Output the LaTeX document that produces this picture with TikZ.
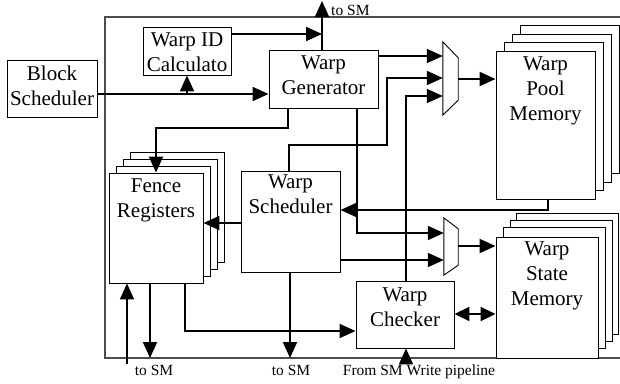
\documentclass[tikz,border=0pt]{standalone}
\usepackage{fontspec}
\setmainfont{Liberation Serif}
\usetikzlibrary{arrows.meta,calc}
\begin{document}
\begin{tikzpicture}[x=1pt,y=-1pt,
  box/.style={draw, line width=0.9pt, fill=white, inner sep=0pt, rectangle},
  lbl/.style={font=\fontsize{21}{25}\selectfont, align=center, inner sep=0pt, anchor=north},
  small/.style={font=\fontsize{15.5}{18}\selectfont, inner sep=0pt, anchor=base},
  conn/.style={line width=1.9pt},
  arr/.style={conn, -{Triangle[length=16pt,width=14pt]}},
  darr/.style={conn, {Triangle[length=15pt,width=14pt]}-{Triangle[length=15pt,width=14pt]}},
  muxbox/.style={inner sep=0pt, minimum width=15pt},
  muxline/.style={line width=0.9pt}
]
\useasboundingbox (0,0) rectangle (620,383);
% outer frame
\draw[line width=1.1pt, draw=black!70] (620,17) -- (105,17) -- (105,358) -- (620,358);

% Fence registers stack
\node[box, minimum width=94pt, minimum height=110pt] (fence3) at (177,207) {};
\node[box, minimum width=94pt, minimum height=110pt] (fence2) at (170,214) {};
\node[box, minimum width=94pt, minimum height=110pt] (fence1) at (163,221) {};
\node[box, minimum width=94pt, minimum height=110pt] (fence) at (156,228) {};
\node[lbl] (fenceT) at (156,179) {Fence\\Registers};

% Warp pool memory stack
\node[box, minimum width=99pt, minimum height=148pt] (pool3) at (569.5,99.5) {};
\node[box, minimum width=99pt, minimum height=148pt] (pool2) at (561.5,108) {};
\node[box, minimum width=99pt, minimum height=148pt] (pool1) at (553.5,116.5) {};
\node[box, minimum width=99pt, minimum height=148pt] (pool) at (545.5,125) {};
\node[lbl] (poolT) at (545.5,57) {Warp\\Pool\\Memory};

% Warp state memory stack
\node[box, minimum width=102pt, minimum height=121pt] (state3) at (567,273.5) {};
\node[box, minimum width=102pt, minimum height=121pt] (state2) at (561,280.5) {};
\node[box, minimum width=102pt, minimum height=121pt] (state1) at (554,288) {};
\node[box, minimum width=102pt, minimum height=121pt] (state) at (547,297.5) {};
\node[lbl] (stateT) at (547,242) {Warp\\State\\Memory};

% single boxes
\node[box, minimum width=90pt, minimum height=57pt] (bs) at (52,88.5) {};
\node[lbl] (bsT) at (52,66) {Block\\Scheduler};
\node[box, minimum width=88pt, minimum height=48pt] (wid) at (187,51) {};
\node[lbl] (widT) at (187,33) {Warp ID\\Calculato};
\node[box, minimum width=109pt, minimum height=58pt] (gen) at (323.5,79) {};
\node[lbl] (genT) at (323.5,56) {Warp\\Generator};
\node[box, minimum width=99pt, minimum height=101pt] (sched) at (290.5,221.5) {};
\node[lbl] (schedT) at (290.5,175) {Warp\\Scheduler};
\node[box, minimum width=98pt, minimum height=67pt] (check) at (405,314.5) {};
\node[lbl] (checkT) at (405,288) {Warp\\Checker};

% multiplexers
\node[muxbox, minimum height=73pt] (mux1) at (450.5,78.5) {};
\draw[muxline] (mux1.north west) -- ([yshift=-16pt]mux1.north east) -- ([yshift=15pt]mux1.south east) -- (mux1.south west) -- cycle;
\node[muxbox, minimum width=14pt, minimum height=57pt] (mux2) at (451,246.5) {};
\draw[muxline] (mux2.north west) -- ([yshift=-11pt]mux2.north east) -- ([yshift=10pt]mux2.south east) -- (mux2.south west) -- cycle;

% free ends
\coordinate (tsm) at (322,1);
\coordinate (fin) at (127,364);
\coordinate (fout) at (150,358);
\coordinate (sout) at (290,358);
\coordinate (wpin) at (406,363);

% connectors
\draw[arr] (bs.east |- 0,94) -- (gen.west |- 0,94);
\draw[arr] (wid.south |- 0,94) -- (wid.south);
\draw[arr] (tsm |- gen.north) -- (tsm);
\draw[arr] (wid.east |- 0,34) -- (tsm |- 0,34);
\draw[arr] (gen.south -| 288,0) -- (288,128) -| (fence.north);
\draw[arr] (sched.west |- 0,223) -- (fence.east |- 0,223);
\draw[arr] (sched.north -| 289,0) |- (387,145) |- (mux1.west |- 0,78);
\draw[arr] (gen.east |- 0,56) -- (mux1.west |- 0,56);
\draw[arr] (check.north -| 406,0) |- (mux1.west |- 0,96);
\draw[arr] (mux1.east |- 0,79) -- (pool.west |- 0,79);
\draw[arr] (pool.south -| 548,0) |- (sched.east |- 0,210);
\draw[arr] (gen.south -| 357,0) |- (mux2.west |- 0,233);
\draw[arr] (sched.east |- 0,260) -- (mux2.west |- 0,260);
\draw[arr] (mux2.east |- 0,246) -- (state.west |- 0,246);
\draw[darr] (check.east |- 0,314) -- (state.west |- 0,314);
\draw[arr] (fence.south -| 185,0) |- (check.west |- 0,331);
\draw[arr] (fin) -- (fence.south -| fin);
\draw[arr] (fence.south -| fout) -- (fout);
\draw[arr] (sched.south -| sout) -- (sout);
\draw[arr] (wpin) -- (check.south -| wpin);

% labels
\node[small, anchor=base west] (lTop) at (331,15) {to SM};
\node[small] (lB1) at (154,375) {to SM};
\node[small] (lB2) at (291,375) {to SM};
\node[small] (lB3) at (419,375) {From SM Write pipeline};
\end{tikzpicture}
\end{document}
